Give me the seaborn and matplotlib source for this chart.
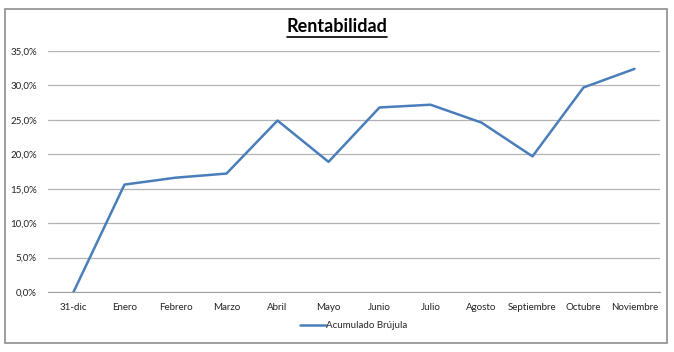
import matplotlib
matplotlib.use('Agg')
import matplotlib.pyplot as plt
import seaborn as sns
import pandas as pd
from matplotlib.ticker import FuncFormatter
from matplotlib.patches import Rectangle
from matplotlib.lines import Line2D

meses = ['31-dic', 'Enero', 'Febrero', 'Marzo', 'Abril', 'Mayo', 'Junio',
         'Julio', 'Agosto', 'Septiembre', 'Octubre', 'Noviembre']
acumulado = [0.0, 15.6, 16.6, 17.2, 24.9, 18.9, 26.8, 27.2, 24.6, 19.7, 29.7, 32.4]
serie = 'Acumulado Brújula'

df = pd.DataFrame({'mes': meses, 'valor': [v / 100 for v in acumulado]})

sns.set_style('white')
plt.rcParams['font.family'] = ['Lato', 'DejaVu Sans']

fig = plt.figure(figsize=(6.74, 3.52), dpi=100, facecolor='white')
ax = fig.add_axes([48 / 674, 1 - 292 / 352, 612 / 674, 241 / 352])

sns.lineplot(data=df, x='mes', y='valor', sort=False, color='#4a7ebb',
             linewidth=1.8, ax=ax, label=serie)

ax.set_ylim(0, 0.35)
ax.set_xlim(-0.5, len(meses) - 0.5)
ax.set_yticks([i * 0.05 for i in range(8)])
ax.yaxis.set_major_formatter(FuncFormatter(lambda v, p: f'{v * 100:.1f}%'.replace('.', ',')))
ax.grid(axis='y', color='#b3b3b3', linewidth=0.9)
ax.set_axisbelow(True)
for s in ['top', 'right', 'left']:
    ax.spines[s].set_visible(False)
ax.spines['bottom'].set_color('#a0a0a0')
ax.tick_params(axis='both', length=0, labelsize=7, colors='#222222')
ax.tick_params(axis='y', pad=8)
ax.tick_params(axis='x', pad=8)
ax.set_xlabel('')
ax.set_ylabel('')

leg = ax.legend(loc='center', bbox_to_anchor=(0.5, -0.14), frameon=False,
                fontsize=7, handlelength=2.6, handletextpad=0.1)

t = fig.text(0.5, 1 - 27 / 352, 'Rentabilidad', ha='center', va='center',
             fontsize=13, fontweight='bold', color='black')

# underline title
fig.canvas.draw()
bb = t.get_window_extent().transformed(fig.transFigure.inverted())
fig.add_artist(Line2D([bb.x0, bb.x1], [bb.y0 - 0.004, bb.y0 - 0.004],
                      transform=fig.transFigure, color='black', linewidth=1.2))

# outer chart border
fig.add_artist(Rectangle((5 / 674, 9 / 352), 662 / 674, 334 / 352,
                         transform=fig.transFigure, fill=False,
                         edgecolor='#8c8c8c', linewidth=1.2))

fig.savefig('out.png', dpi=100, facecolor='white')
